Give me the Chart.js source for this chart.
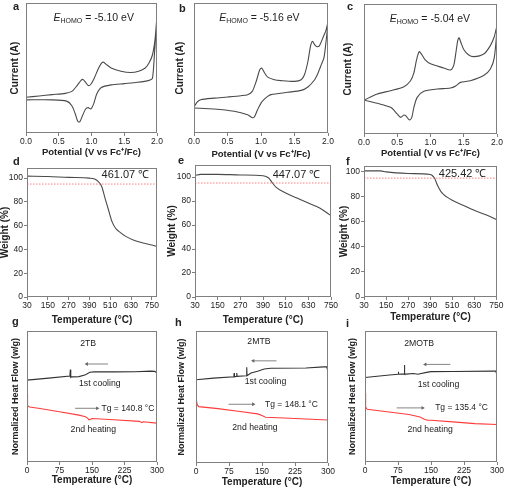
<!DOCTYPE html>
<html lang="en">
<head>
<meta charset="UTF-8">
<title>CV / TGA / DSC panels</title>
<script src="https://cdn.jsdelivr.net/npm/chart.js"></script>
<style>
  body { margin: 0; background: #fff; font-family: 'Liberation Sans', Arial, sans-serif; }
  #wrap { position: relative; width: 505px; height: 488px; overflow: hidden; }
  #wrap canvas { position: absolute; }
  .tag { position: absolute; font-size: 11px; line-height: 11px; font-weight: bold; color: #222; }
</style>
</head>
<body>
<div id="wrap">
  <canvas id="pa" width="165" height="160" style="left:0;top:0"></canvas>
  <canvas id="pb" width="170" height="160" style="left:165px;top:0"></canvas>
  <canvas id="pc" width="170" height="160" style="left:335px;top:0"></canvas>
  <canvas id="pd" width="165" height="165" style="left:0;top:160px"></canvas>
  <canvas id="pe" width="175" height="165" style="left:165px;top:160px"></canvas>
  <canvas id="pf" width="170" height="165" style="left:335px;top:160px"></canvas>
  <canvas id="pg" width="165" height="163" style="left:0;top:325px"></canvas>
  <canvas id="ph" width="170" height="163" style="left:165px;top:325px"></canvas>
  <canvas id="pi" width="170" height="163" style="left:335px;top:325px"></canvas>
  <div class="tag" style="left:13px;top:1px">a</div>
  <div class="tag" style="left:179px;top:3px">b</div>
  <div class="tag" style="left:347px;top:1px">c</div>
  <div class="tag" style="left:13px;top:156px">d</div>
  <div class="tag" style="left:178px;top:155px">e</div>
  <div class="tag" style="left:346px;top:156px">f</div>
  <div class="tag" style="left:12px;top:316px">g</div>
  <div class="tag" style="left:175px;top:317px">h</div>
  <div class="tag" style="left:346px;top:318px">i</div>
</div>

<script>
  // ---- CV (a-c): potential vs Fc+/Fc, current in arbitrary units, traced as a closed loop
  const cvTicks = [0, 0.5, 1.0, 1.5, 2.0];
  const eHomo = ['-5.10', '-5.16', '-5.04'];

  const cvA_V = [0.0, 0.2, 0.4, 0.6, 0.7, 0.78, 0.84, 0.87, 0.91, 0.95, 0.99, 1.04, 1.1, 1.15, 1.18, 1.22, 1.3, 1.45, 1.6, 1.72, 1.82, 1.88, 1.93, 1.97, 2.0,
                 1.96, 1.93, 1.88, 1.7, 1.5, 1.3, 1.15, 1.08, 1.03, 0.99, 0.95, 0.91, 0.86, 0.82, 0.79, 0.75, 0.7, 0.62, 0.4, 0.0];
  const cvA_I = [27.5, 28.5, 29.5, 30.5, 32, 36.5, 40.5, 41.2, 39, 36.5, 37.5, 42, 49, 53.5, 54.5, 53, 50, 47.5, 46.5, 47.5, 50, 54, 60, 72, 90,
                 60, 42, 40.5, 39, 38, 37, 35, 30, 22, 18.5, 19.5, 18.5, 13, 8.5, 9, 15, 21, 24.5, 25.5, 25.5];

  const cvB_V = [0.0, 0.05, 0.1, 0.3, 0.5, 0.7, 0.8, 0.87, 0.93, 0.98, 1.01, 1.05, 1.1, 1.2, 1.3, 1.5, 1.6, 1.65, 1.7, 1.74, 1.77, 1.8, 1.83, 1.87, 1.93, 1.97, 2.0,
                 1.97, 1.94, 1.9, 1.85, 1.8, 1.7, 1.6, 1.4, 1.15, 1.1, 1.05, 1.0, 0.95, 0.9, 0.87, 0.8, 0.6, 0.3, 0.0];
  const cvB_I = [20, 24, 25.6, 26.8, 27.7, 28.7, 29.5, 32, 40, 48.5, 50, 46.5, 43, 41, 40.3, 39.7, 41, 45, 55, 67, 70.5, 68, 66.5, 67, 74, 79, 85,
                 70, 58, 52.6, 46, 41, 35.4, 32.8, 31.3, 29.5, 28.2, 26, 23, 18, 12.3, 11.8, 14, 16.7, 18.5, 19.2];

  const cvC_V = [0.0, 0.2, 0.4, 0.6, 0.7, 0.75, 0.79, 0.83, 0.87, 0.92, 1.0, 1.2, 1.3, 1.35, 1.38, 1.41, 1.43, 1.46, 1.5, 1.57, 1.65, 1.8, 1.9, 1.96, 2.0,
                 1.96, 1.9, 1.8, 1.6, 1.45, 1.38, 1.3, 1.1, 0.9, 0.8, 0.75, 0.72, 0.69, 0.66, 0.63, 0.6, 0.55, 0.5, 0.4, 0.2, 0.0];
  const cvC_I = [26, 30.8, 33.3, 36.4, 41, 47, 57, 63.3, 61, 57, 54, 50.8, 49.2, 53, 62, 72, 74, 70, 65, 61, 59.5, 61.5, 68, 75, 83,
                 59, 50, 45, 41, 39.7, 37, 35.4, 34.6, 32.8, 28.2, 20.5, 13, 10.8, 12, 14, 14.6, 12.8, 15.4, 20.5, 23.6, 26];

  // ---- TGA (d-f): temperature (°C) vs weight (%)
  const tgaXTicks = [30, 150, 270, 390, 510, 630, 750];
  const tgaYTicks = [0, 20, 40, 60, 80, 100];
  const tgaOnset = ['461.07', '447.07', '425.42'];
  const tgaLevel = 95;

  const tgaD_T = [30, 150, 270, 390, 420, 440, 461, 480, 500, 520, 540, 560, 600, 650, 700, 750, 780];
  const tgaD_W = [101.7, 101.4, 100.6, 100, 99.2, 97.2, 93, 83.2, 73.4, 63.6, 58, 55.2, 51, 47.6, 45.4, 43.7, 42.6];

  const tgaE_T = [30, 60, 150, 270, 390, 420, 440, 460, 510, 570, 630, 690, 750];
  const tgaE_W = [101.4, 102.2, 102.2, 101.7, 101.1, 99.2, 95, 91.4, 86.7, 82.5, 78.3, 74.2, 67.8];

  const tgaF_T = [30, 120, 150, 270, 390, 400, 415, 430, 450, 480, 510, 570, 630, 690, 750];
  const tgaF_W = [100.8, 100.8, 100, 98.7, 97.9, 97.3, 94.7, 89.3, 84, 80, 77.3, 73.3, 69.3, 65.9, 61.9];

  // ---- DSC (g-i): temperature (°C) vs normalized heat flow (arbitrary offset units)
  const dscTicks = [0, 75, 150, 225, 300];
  const dscNames = ['2TB', '2MTB', '2MOTB'];
  const dscTg = ['140.8', '148.1', '135.4'];

  const dscG_coolT  = [0, 50, 99, 100, 101, 103, 120, 135, 145, 155, 200, 250, 285, 295, 299, 300];
  const dscG_coolHF = [62.5, 64, 65.6, 70.5, 64.5, 65, 65.2, 66.6, 68.5, 68.8, 68.8, 68.9, 69.4, 69.2, 68, 53];
  const dscG_heatT  = [0, 0.5, 2, 6, 30, 75, 120, 135, 140, 143, 147, 150, 200, 260, 265, 268, 300];
  const dscG_heatHF = [52, 46, 43, 42, 40.8, 38.3, 35.8, 34.5, 33.5, 32.2, 32.7, 33.2, 32.2, 31, 30, 30.7, 29.7];

  const dscH_coolT  = [0, 40, 86, 86.7, 87.4, 92, 92.7, 93.4, 114.5, 115.3, 116, 125, 140, 155, 170, 250, 290, 297, 299, 300];
  const dscH_coolHF = [63.1, 64.3, 65.3, 68.2, 65.3, 65.6, 68.2, 65.6, 66.1, 72.5, 66.1, 68.2, 69.5, 71.2, 71.8, 72, 72.8, 72.8, 70.5, 54];
  const dscH_heatT  = [0, 1, 3, 6, 50, 100, 140, 150, 158, 200, 250, 300];
  const dscH_heatHF = [55, 47, 44, 42.7, 41.2, 39, 37.2, 35.9, 34.6, 34.1, 33.3, 32.6];

  const dscI_coolT  = [0, 50, 75, 75.8, 76.6, 89, 89.6, 90.3, 92.7, 110, 120, 140, 150, 200, 290, 297, 299, 300];
  const dscI_coolHF = [64.5, 66.2, 67, 68.9, 67, 67.3, 74, 67, 67.1, 67.6, 67, 68.4, 69, 69.1, 69.4, 69.4, 67.5, 61];
  const dscI_heatT  = [0, 0.8, 2, 5, 50, 100, 125, 135, 142, 150, 200, 250, 300];
  const dscI_heatHF = [52.3, 46, 42, 40.3, 38.3, 36.2, 34.4, 32.7, 31.9, 31.9, 30.6, 29.3, 28.6];

  // arrows: [from T, to T, level]
  const dscCoolArrow = [[187, 138, 74.8], [183, 130, 77.4], [194, 137, 74.5]];
  const dscHeatArrow = [[111, 162, 41], [74, 130, 44.5], [72, 131, 41.3]];

  const FONT = "'Liberation Sans', Arial, sans-serif";
  const GRAY = '#7f7f7f';
  Chart.defaults.font.family = FONT;
  Chart.defaults.color = '#222';

  const pts = (xs, ys) => xs.map((x, i) => ({ x: x, y: ys[i] }));

  // frame + annotation texts
  const decor = {
    id: 'decor',
    afterDatasetsDraw(chart, args, opts) {
      const { ctx, chartArea: a } = chart;
      const sx = chart.scales.x, sy = chart.scales.y;
      ctx.save();
      ctx.strokeStyle = GRAY;
      ctx.lineWidth = 1;
      ctx.strokeRect(Math.round(a.left) + 0.5, Math.round(a.top) + 0.5, Math.round(a.width) - 1, Math.round(a.height) - 1);
      ctx.fillStyle = '#222';
      ctx.textBaseline = 'middle';
      (opts.labels || []).forEach(l => {
        ctx.font = (l.size || 8.5) + 'px ' + FONT;
        ctx.textAlign = l.align || 'left';
        ctx.fillText(l.text, sx.getPixelForValue(l.x), sy.getPixelForValue(l.y));
      });
      if (opts.ehomo) {
        const h = opts.ehomo;
        let x = sx.getPixelForValue(h.x);
        const y = sy.getPixelForValue(h.y);
        ctx.textAlign = 'left';
        ctx.font = 'italic 10.5px ' + FONT;
        ctx.fillText('E', x, y);
        x += ctx.measureText('E').width;
        ctx.font = '7px ' + FONT;
        ctx.fillText('HOMO', x, y + 3);
        x += ctx.measureText('HOMO').width;
        ctx.font = '10.5px ' + FONT;
        ctx.fillText(' = ' + h.value + ' eV', x, y);
      }
      ctx.restore();
    }
  };

  function axis(o) {
    const horiz = o.pos === 'bottom';
    return {
      type: 'linear',
      position: o.pos,
      min: o.min,
      max: o.max,
      afterBuildTicks: o.ticks ? (s => { s.ticks = o.ticks.map(v => ({ value: v })); }) : undefined,
      afterFit: s => {
        if (horiz) s.height = o.size; else s.width = o.size;
        s.paddingLeft = s.paddingRight = s.paddingTop = s.paddingBottom = 0;
      },
      grid: { display: !!o.ticks, drawOnChartArea: false, tickLength: 3, color: GRAY },
      border: { display: false },
      ticks: {
        display: !!o.ticks,
        padding: 1,
        color: '#222',
        font: { size: 8.5 },
        callback: o.fmt || (v => v)
      },
      title: {
        display: true,
        text: o.title,
        color: '#222',
        font: { size: o.titleSize, weight: 'bold', lineHeight: 1 },
        padding: horiz ? { top: 0, bottom: o.titlePad } : { top: o.titlePad, bottom: 0 }
      }
    };
  }

  function line(data, color, extra) {
    return Object.assign({
      data: data, showLine: true, borderColor: color, borderWidth: 1.1,
      pointRadius: 0, fill: false
    }, extra || {});
  }

  function arrow(a, color) {
    return {
      data: [{ x: a[0], y: a[2] }, { x: a[1], y: a[2] }],
      showLine: true, borderColor: color, borderWidth: 0.8,
      pointRadius: [0, 2.2], pointStyle: 'triangle',
      rotation: a[1] > a[0] ? 90 : -90,
      pointBackgroundColor: color, pointBorderColor: color, pointBorderWidth: 0
    };
  }

  function build(id, g, datasets, xAxis, yAxis, decorOpts) {
    new Chart(document.getElementById(id), {
      type: 'scatter',
      data: { datasets: datasets },
      options: {
        responsive: false,
        animation: false,
        layout: { padding: { top: g.pt, right: g.pr, left: 0, bottom: 0 } },
        plugins: { legend: { display: false }, tooltip: { enabled: false }, decor: decorOpts },
        scales: { x: xAxis, y: yAxis }
      },
      plugins: [decor]
    });
  }

  // ---- CV panels
  const cvGeo = [
    { id: 'pa', pt: 3, pr: 8, yw: 26, xh: 27, yPad: 10, xPad: 2.5, eX: 0.42 },
    { id: 'pb', pt: 3, pr: 7, yw: 29, xh: 27, yPad: 10, xPad: 0.5, eX: 0.375 },
    { id: 'pc', pt: 4, pr: 8, yw: 29, xh: 26, yPad: 8, xPad: 1.5, eX: 0.386 }
  ];
  const cvData = [pts(cvA_V, cvA_I), pts(cvB_V, cvB_I), pts(cvC_V, cvC_I)];
  cvGeo.forEach((g, i) => {
    build(g.id, g,
      [line(cvData[i], '#4a4a4a', { tension: 0.25 })],
      axis({ pos: 'bottom', min: 0, max: 2, ticks: cvTicks, size: g.xh, title: 'Potential (V vs Fc\u207A/Fc)', titleSize: 9.5, titlePad: g.xPad, fmt: v => v.toFixed(1) }),
      axis({ pos: 'left', min: 0, max: 100, ticks: null, size: g.yw, title: 'Current (A)', titleSize: 10, titlePad: g.yPad }),
      { ehomo: { x: g.eX, y: 88.5, value: eHomo[i] } }
    );
  });

  // ---- TGA panels
  const tgaGeo = [
    { id: 'pd', pt: 8, pr: 8, yw: 27, xh: 28, yPad: 0, xPad: 0, xMax: 780, yMax: 108.5, tx: 460, ty: 102.8 },
    { id: 'pe', pt: 5, pr: 9, yw: 30, xh: 28, yPad: 2.5, xPad: 0, xMax: 750, yMax: 110, tx: 441, ty: 101.4 },
    { id: 'pf', pt: 6, pr: 8, yw: 29, xh: 28, yPad: 3.8, xPad: 3, xMax: 754, yMax: 104.7, tx: 437, ty: 98.7 }
  ];
  const tgaData = [pts(tgaD_T, tgaD_W), pts(tgaE_T, tgaE_W), pts(tgaF_T, tgaF_W)];
  tgaGeo.forEach((g, i) => {
    build(g.id, g,
      [
        line([{ x: 30, y: tgaLevel }, { x: g.xMax, y: tgaLevel }], '#ff5a5a', { borderWidth: 0.8, borderDash: [1.5, 1.5] }),
        line(tgaData[i], '#4a4a4a', { cubicInterpolationMode: 'monotone' })
      ],
      axis({ pos: 'bottom', min: 30, max: g.xMax, ticks: tgaXTicks, size: g.xh, title: 'Temperature (°C)', titleSize: 10, titlePad: g.xPad }),
      axis({ pos: 'left', min: 0, max: g.yMax, ticks: tgaYTicks, size: g.yw, title: 'Weight (%)', titleSize: 10, titlePad: g.yPad }),
      { labels: [{ text: tgaOnset[i] + ' \u2103', x: g.tx, y: g.ty, size: 11 }] }
    );
  });

  // ---- DSC panels
  const dscGeo = [
    { id: 'pg', pt: 6, pr: 8, yw: 27, xh: 26, yPad: 11, xPad: 3,
      txt: [[141, 90], [168, 60], [172, 41], [153, 24.7]] },
    { id: 'ph', pt: 6, pr: 7, yw: 31, xh: 25, yPad: 12.5, xPad: 0.7,
      txt: [[143, 91.6], [158, 61.8], [157, 44.5], [134, 27]] },
    { id: 'pi', pt: 6, pr: 8, yw: 30, xh: 26, yPad: 13.3, xPad: 1.3,
      txt: [[123, 90], [167, 59.4], [159.5, 41.3], [148, 25]] }
  ];
  const dscCool = [pts(dscG_coolT, dscG_coolHF), pts(dscH_coolT, dscH_coolHF), pts(dscI_coolT, dscI_coolHF)];
  const dscHeat = [pts(dscG_heatT, dscG_heatHF), pts(dscH_heatT, dscH_heatHF), pts(dscI_heatT, dscI_heatHF)];
  dscGeo.forEach((g, i) => {
    const t = g.txt;
    build(g.id, g,
      [
        line(dscCool[i], '#333'),
        line(dscHeat[i], '#ff3b3b'),
        arrow(dscCoolArrow[i], '#666'),
        arrow(dscHeatArrow[i], '#666')
      ],
      axis({ pos: 'bottom', min: 0, max: 300, ticks: dscTicks, size: g.xh, title: 'Temperature (°C)', titleSize: 10, titlePad: g.xPad }),
      axis({ pos: 'left', min: 0, max: 100, ticks: null, size: g.yw, title: 'Normalized Heat Flow (w/g)', titleSize: 9, titlePad: g.yPad }),
      { labels: [
        { text: dscNames[i], x: t[0][0], y: t[0][1], align: 'center', size: 8.7 },
        { text: '1st cooling', x: t[1][0], y: t[1][1], align: 'center', size: 8.7 },
        { text: 'Tg = ' + dscTg[i] + ' °C', x: t[2][0], y: t[2][1], size: 8.5 },
        { text: '2nd heating', x: t[3][0], y: t[3][1], align: 'center', size: 8.7 }
      ] }
    );
  });
</script>
</body>
</html>
